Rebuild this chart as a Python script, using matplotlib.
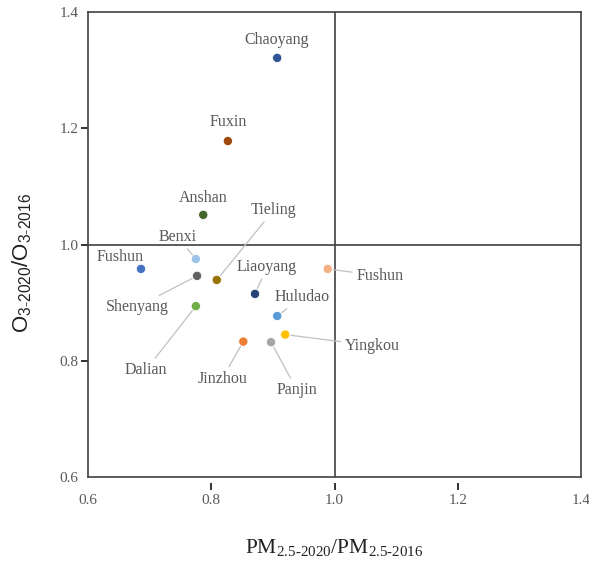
import matplotlib
matplotlib.use("Agg")
import matplotlib.pyplot as plt

plt.rcParams['font.family'] = ['Liberation Serif', 'DejaVu Serif']
plt.rcParams['mathtext.fontset'] = 'custom'
plt.rcParams['mathtext.rm'] = 'Liberation Serif'

# data
cities = ['Chaoyang', 'Fuxin', 'Anshan', 'Tieling', 'Benxi', 'Fushun', 'Shenyang',
          'Dalian', 'Liaoyang', 'Huludao', 'Yingkou', 'Jinzhou', 'Panjin', 'Fushun']
pm_ratio = [0.907, 0.827, 0.787, 0.809, 0.775, 0.686, 0.777,
            0.775, 0.871, 0.907, 0.920, 0.852, 0.897, 0.989]
o3_ratio = [1.321, 1.178, 1.051, 0.939, 0.975, 0.958, 0.946,
            0.894, 0.915, 0.877, 0.845, 0.833, 0.832, 0.958]
colors = ['#2f5597', '#9e480e', '#43682b', '#997300', '#9dc3e6', '#4472c4', '#636363',
          '#70ad47', '#264478', '#5b9bd5', '#ffc000', '#ed7d31', '#a5a5a5', '#f4b183']
ticks = [0.6, 0.8, 1.0, 1.2, 1.4]

# label offsets in pixels (dx, dy) and whether a leader line is drawn
label_offsets = [(-1, 18), (0, 19), (0, 17), (57, 70), (-18, 22), (-21, 12), (-60, -31),
                 (-50, -64), (12, 27), (25, 19), (87, -11), (-21, -37), (26, -48), (52, -7)]
leaders = [False, False, False, True, True, True, True,
           True, True, True, True, True, True, True]

fig = plt.figure(figsize=(5.89, 5.64), dpi=100)
ax = fig.add_axes([88 / 589, 1 - 477 / 564, 493 / 589, 465 / 564])

ax.axvline(1.0, color='#404040', lw=1.2, zorder=1)
ax.axhline(1.0, color='#404040', lw=1.2, zorder=1)
# bottom frame line (the real bottom spine is pushed down so the ticks float below it)
ax.axhline(0.6, color='#404040', lw=1.2, zorder=1, clip_on=False)

ax.scatter(pm_ratio, o3_ratio, s=45, c=colors, edgecolors='white', linewidths=0.6, zorder=4)

for name, x, y, (dx, dy), lead in zip(cities, pm_ratio, o3_ratio, label_offsets, leaders):
    arrow = dict(arrowstyle='-', color='#c0c0c0', lw=0.9, shrinkA=1, shrinkB=4) if lead else None
    ax.annotate(name, xy=(x, y), xytext=(dx, dy), textcoords='offset pixels',
                ha='center', va='center', fontsize=11.5, color='#595959',
                arrowprops=arrow, zorder=3)

for sp in ax.spines.values():
    sp.set_color('#404040')
    sp.set_linewidth(1.2)
ax.spines['bottom'].set_position(('outward', 4))
ax.spines['bottom'].set_visible(False)

ax.set_xlim(0.6, 1.4)
ax.set_ylim(0.6, 1.4)
ax.set_xticks(ticks)
ax.set_yticks(ticks)
ax.set_xticklabels([f'{t:.1f}' for t in ticks])
ax.set_yticklabels([f'{t:.1f}' for t in ticks])
ax.tick_params(axis='both', direction='out', length=5, width=1.3, colors='#222222',
               labelcolor='#595959', labelsize=11)
ax.tick_params(axis='x', pad=3)
ax.tick_params(axis='y', pad=2)
for t in (ax.xaxis.get_major_ticks()[0], ax.xaxis.get_major_ticks()[-1],
          ax.yaxis.get_major_ticks()[0], ax.yaxis.get_major_ticks()[-1]):
    t.tick1line.set_visible(False)

ax.set_xlabel(r'PM$_{\mathregular{2.5}\text{-}\mathregular{2020}}$/PM$_{\mathregular{2.5}\text{-}\mathregular{2016}}$',
              fontsize=15.5, color='#222222')
ax.xaxis.label.set_va('center')
ax.xaxis.set_label_coords(0.499, -0.153)
ax.set_ylabel(r'O$_{\mathregular{3}\text{-}\mathregular{2020}}$/O$_{\mathregular{3}\text{-}\mathregular{2016}}$',
              fontsize=16, color='#222222', family=['Liberation Sans', 'DejaVu Sans'])
ax.yaxis.label.set_va('center')
ax.yaxis.set_label_coords(-0.134, 0.46)

fig.savefig('out.png', dpi=100)
